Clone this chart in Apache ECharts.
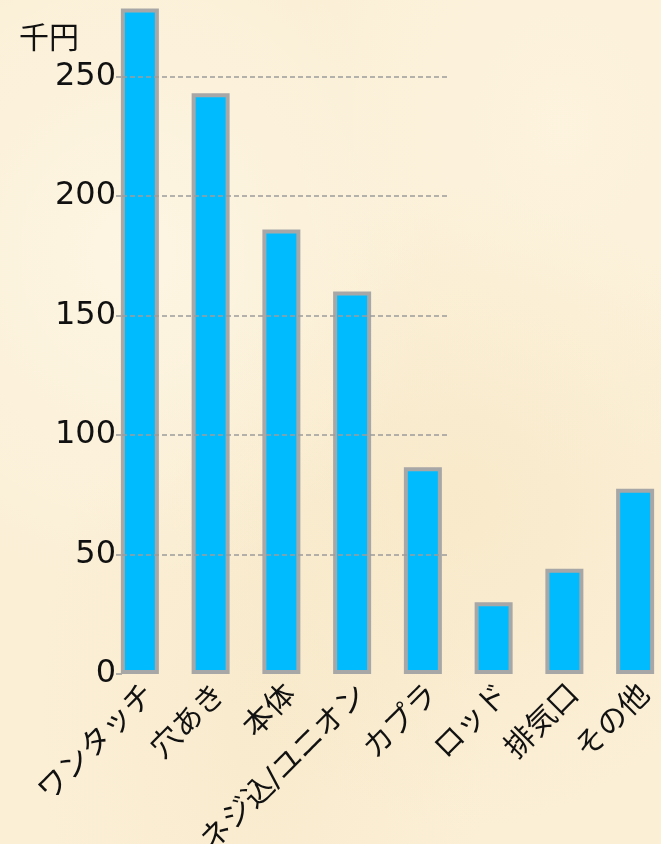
<!DOCTYPE html>
<html>
<head>
<meta charset="utf-8">
<script src="https://cdn.jsdelivr.net/npm/echarts@6/dist/echarts.min.js"></script>
<style>
html,body{margin:0;padding:0;}
body{width:661px;height:844px;overflow:hidden;
background-color:#fbefd6;
background-image:
 radial-gradient(ellipse at 20% 30%, rgba(255,250,235,0.6) 0%, rgba(255,250,235,0) 40%),
 radial-gradient(ellipse at 70% 60%, rgba(245,228,190,0.5) 0%, rgba(245,228,190,0) 45%),
 radial-gradient(ellipse at 85% 15%, rgba(255,248,230,0.5) 0%, rgba(255,248,230,0) 35%),
 radial-gradient(ellipse at 40% 85%, rgba(246,230,195,0.5) 0%, rgba(246,230,195,0) 40%);
}
#chart{width:661px;height:844px;}
</style>
</head>
<body>
<div id="chart"></div>
<script>
const categories = ['ワンタッチ','穴あき','本体','ネジ込/ユニオン','カプラ','ロッド','排気口','その他'];
const values = [278.5, 243, 186, 160, 86.5, 30, 44, 77.5];
const yTicks = [0, 50, 100, 150, 200, 250];
const unitLabel = '千円';

const font = "'DejaVu Sans','Noto Sans CJK JP',sans-serif";
const chart = echarts.init(document.getElementById('chart'), null, {renderer:'canvas'});
chart.setOption({
  backgroundColor: 'transparent',
  animation: false,
  title: {
    text: unitLabel, left: 14, top: 20,
    textStyle: {fontFamily: font, fontSize: 30, fontWeight: 'normal', color: '#111'}
  },
  grid: [
    {left: 104.5, width: 566, top: -43, height: 717, outerBoundsMode: 'none', containLabel: false},
    {left: 122, width: 325, top: -43, height: 717, outerBoundsMode: 'none', containLabel: false}
  ],
  xAxis: [
    {
      type: 'category', data: categories, gridIndex: 0,
      axisLine: {show: false}, axisTick: {show: false},
      axisLabel: {interval: 0, rotate: 45, fontSize: 30, color: '#111', fontFamily: font, margin: 6, verticalAlign: 'top'}
    },
    {type: 'value', gridIndex: 1, min: 0, max: 1, show: false}
  ],
  yAxis: [
    {
      type: 'value', gridIndex: 0, min: 0, max: 300, interval: 50, offset: -17.5,
      axisLine: {show: false},
      axisTick: {show: true, length: 6, lineStyle: {color: '#999', width: 1.5}},
      axisLabel: {fontSize: 32, color: '#111', fontFamily: font, margin: 6,
        formatter: v => yTicks.includes(v) ? String(v) : ''},
      splitLine: {show: false}
    },
    {
      type: 'value', gridIndex: 1, min: 0, max: 300, interval: 50, z: 10,
      axisLine: {show: false}, axisTick: {show: false}, axisLabel: {show: false},
      splitLine: {show: true, showMinLine: false, showMaxLine: false,
        lineStyle: {color: '#9c9c9c', width: 1.5, type: [5, 3]}}
    }
  ],
  series: [{
    type: 'bar', data: values, xAxisIndex: 0, yAxisIndex: 0,
    barWidth: 38, z: 2,
    itemStyle: {color: '#00bcff', borderColor: '#a7a7a7', borderWidth: 4}
  }]
});
</script>
</body>
</html>
